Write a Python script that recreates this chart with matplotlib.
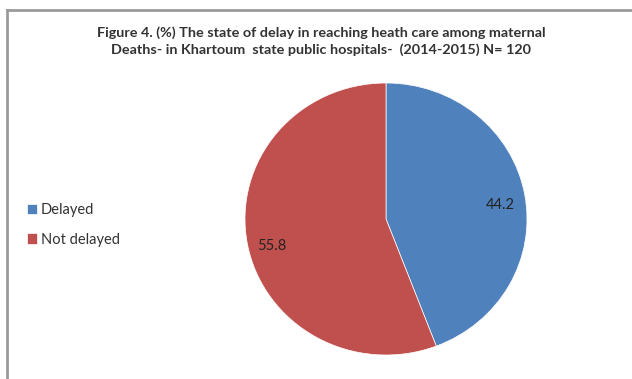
import matplotlib.pyplot as plt
from matplotlib.lines import Line2D

labels = ["Delayed", "Not delayed"]
shares = [44.2, 55.8]
colors = ["#4F81BD", "#C0504D"]

title = ("Figure 4. (%) The state of delay in reaching heath care among maternal\n"
         "Deaths- in Khartoum  state public hospitals-  (2014-2015) N= 120")

W, H = 632, 379
plt.rcParams["font.family"] = ["Lato", "DejaVu Sans"]

fig = plt.figure(figsize=(W / 100, H / 100), dpi=100)

# frame lines along the top and left edge
fig.add_artist(Line2D([7 / W, 7 / W], [0, 1 - 10 / H], color="#9a9a9a", lw=2))
fig.add_artist(Line2D([7 / W, 1], [1 - 10 / H, 1 - 10 / H], color="#9a9a9a", lw=2))

fig.text(321 / W, 1 - 41 / H, title, ha="center", va="center",
         fontsize=10.4, fontweight="bold", color="#333333", linespacing=1.4)

# pie sits in an axes slightly wider than tall
cx, cy, rx, ry = 386, 160, 141, 136
ax = fig.add_axes([(cx - rx) / W, (cy - ry) / H, 2 * rx / W, 2 * ry / H])
wedges, _, autotexts = ax.pie(
    shares, colors=colors, startangle=90, counterclock=False,
    autopct=lambda p: f"{p:.1f}", pctdistance=0.82,
    wedgeprops=dict(linewidth=0.5, edgecolor="white"),
    textprops=dict(fontsize=10.5, color="#222222"),
)
autotexts[0].set_position((0.81, 0.1))
autotexts[1].set_position((-0.81, -0.2))
ax.set_aspect("auto")
ax.set_xlim(-1, 1)
ax.set_ylim(-1, 1)

fig.legend(wedges, labels, loc="center left", bbox_to_anchor=(14 / W, 1 - 225 / H),
           frameon=False, fontsize=10.5, handlelength=0.7, handleheight=0.7,
           handletextpad=0.25, labelspacing=1.05, labelcolor="#333333")

fig.savefig("out.png", dpi=100)
